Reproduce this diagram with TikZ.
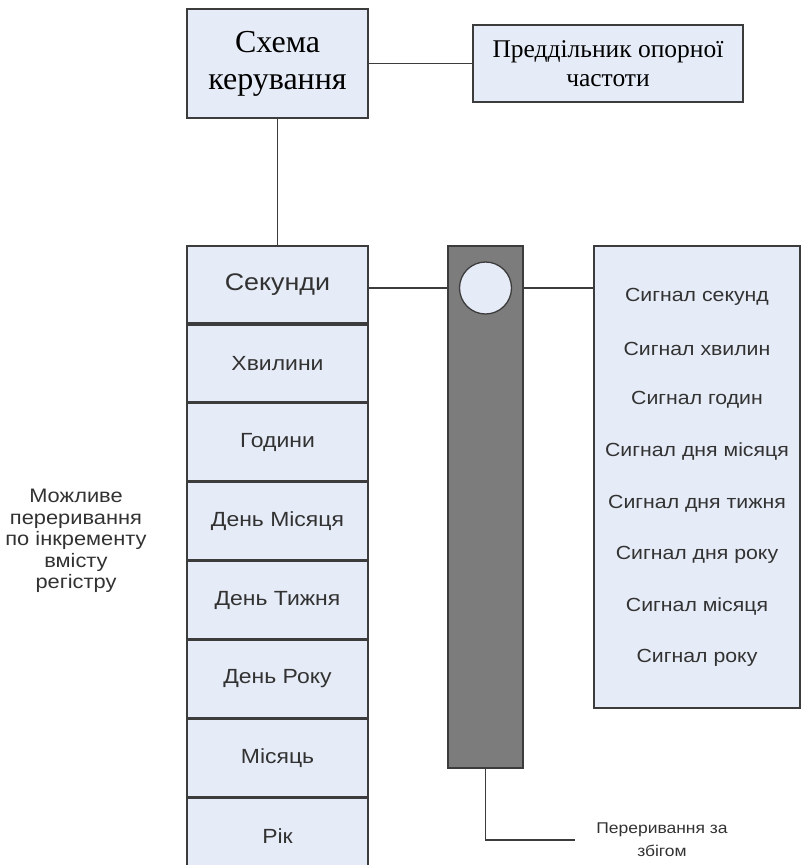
\documentclass[tikz,border=0pt]{standalone}
\usepackage{fontspec}
\setmainfont[FakeStretch=1.12]{Liberation Sans}
\newfontfamily\serifru{Liberation Serif}
\usetikzlibrary{positioning, calc}
\definecolor{boxfill}{RGB}{230,236,247}
\definecolor{barfill}{RGB}{124,124,124}
\definecolor{edge}{RGB}{60,60,60}
\definecolor{txt}{RGB}{50,50,50}

\tikzset{
    ctrlbox/.style={draw=edge, line width=1.6pt, fill=boxfill, align=center,
        font=\serifru, text=black, inner sep=0pt},
    regbox/.style={draw=edge, line width=1.6pt, fill=boxfill, minimum width=181pt,
        minimum height=77.25pt, inner sep=0pt, font=\fontsize{20.5}{24}\selectfont, text=txt},
    wire/.style={draw=edge, line width=1.3pt},
    note/.style={align=center, text=txt, font=\fontsize{19.5}{21.5}\selectfont}
}

\begin{document}
\begin{tikzpicture}[x=1pt, y=-1pt]
    \useasboundingbox (0,0) rectangle (802,865);

    % Control
    \node[ctrlbox, minimum width=181pt, minimum height=109pt,
        font=\serifru\fontsize{32}{37}\selectfont] (ctrl) at (277.5,63.5) {Схема\\керування};
    \node[ctrlbox, minimum width=270pt, minimum height=77pt,
        font=\serifru\fontsize{25.5}{29}\selectfont] (div) at (608,63.5) {Преддільник опорної\\частоти};
    \draw[wire] (ctrl.east) -- (div.west);

    % Registers
    \node[regbox, font=\fontsize{24}{28}\selectfont] (reg1) at (277.5,284.6) {Секунди};
    \foreach \txt [count=\i from 2, evaluate=\i as \j using int(\i-1)] in
        {Хвилини, Години, День Місяця, День Тижня, День Року, Місяць, Рік}
        \node[regbox, below=0pt of reg\j] (reg\i) {\txt};
    \draw[wire] (ctrl.south) -- (reg1.north);

    % Comparator bar
    \node[draw=edge, line width=1.6pt, fill=barfill, minimum width=75pt,
        minimum height=522pt, inner sep=0pt] (bar) at (485.5,507) {};
    \node[draw=edge, line width=1.3pt, fill=boxfill, circle, minimum size=52pt,
        inner sep=0pt] (cmp) at (485.5,288) {};
    \draw[wire] (cmp.west -| reg1.east) -- (cmp.west -| bar.west);

    % Signals
    \node[draw=edge, line width=1.6pt, fill=boxfill, minimum width=206pt,
        minimum height=462pt, inner sep=0pt] (sig) at (697,477) {};
    \draw[wire] (cmp.east -| bar.east) -- (cmp.east -| sig.west);
    \foreach \txt [count=\i from 0] in {Сигнал секунд, Сигнал хвилин, Сигнал годин,
        Сигнал дня місяця, Сигнал дня тижня, Сигнал дня року, Сигнал місяця, Сигнал року}
        \node[text=txt, font=\fontsize{19}{22}\selectfont] (sig\i) at (697,{297+51.6*\i}) {\txt};

    % Interrupts
    \node[note] (inc) at (76,541) {Можливе\\переривання\\по інкременту\\вмісту\\регістру};
    \coordinate (irqend) at (575,840);
    \draw[wire] (bar.south) |- (irqend);
    \node[note, font=\fontsize{15.6}{23}\selectfont] (irq) at (662,840) {Переривання за\\збігом};
\end{tikzpicture}
\end{document}
